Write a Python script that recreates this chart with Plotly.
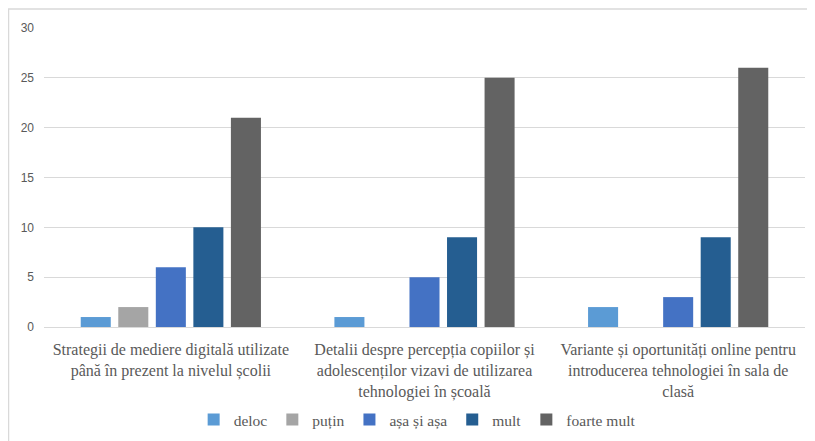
import plotly.graph_objects as go

categories = [
    "Strategii de mediere digitală utilizate<br>până în prezent la nivelul școlii",
    "Detalii despre percepția copiilor și<br>adolescenților vizavi de utilizarea<br>tehnologiei în școală",
    "Variante și oportunități online pentru<br>introducerea tehnologiei în sala de<br>clasă",
]
series_names = ["deloc", "puțin", "așa și așa", "mult", "foarte mult"]
deloc = [1, 1, 2]
putin = [2, 0, 0]
asa = [6, 5, 3]
mult = [10, 9, 9]
foarte_mult = [21, 25, 26]
colors = ["#5B9BD5", "#A5A5A5", "#4472C4", "#255E91", "#636363"]

values = [deloc, putin, asa, mult, foarte_mult]

fig = go.Figure()
for name, vals, col in zip(series_names, values, colors):
    fig.add_trace(go.Bar(x=categories, y=vals, name=name, marker=dict(color=col, line=dict(width=0))))

# page has an 8px body margin, so the figure is sized to fit the window
W, H = 807, 433
ml, mr, mt, mb = 36, 10, 20, 114
pw, ph = W - ml - mr, H - mt - mb

fig.update_layout(
    width=W, height=H,
    margin=dict(l=ml, r=mr, t=mt, b=mb, pad=0, autoexpand=False),
    paper_bgcolor="white", plot_bgcolor="white",
    barmode="group", bargap=0.26, bargroupgap=0.2,
    showlegend=True,
    legend=dict(orientation="h", xref="container", yref="container",
                x=0.507, xanchor="center", y=1 - 412 / H, yanchor="middle",
                font=dict(family="Liberation Serif", size=15.5, color="#595959"),
                itemwidth=30, tracegroupgap=0, traceorder="normal"),
    font=dict(family="Liberation Serif", color="#595959"),
)
fig.update_yaxes(range=[0, 30], dtick=5, showgrid=True, gridcolor="#D9D9D9", gridwidth=1,
                 zeroline=False, showline=False, automargin=False,
                 tickfont=dict(family="Liberation Sans", size=12, color="#595959"),
                 ticklabelstandoff=9)
fig.update_xaxes(showline=True, linecolor="#D9D9D9", linewidth=1, automargin=False,
                 tickfont=dict(family="Liberation Serif", size=16, color="#595959"),
                 ticks="", ticklabelstandoff=8)

# chart border
fig.add_shape(type="rect", xref="paper", yref="paper",
              x0=(0.5 - ml) / pw, x1=(W + 20 - ml) / pw,
              y0=(ph + mt - (H + 20)) / ph, y1=(ph + mt - 1) / ph,
              line=dict(color="#D9D9D9", width=1.5), fillcolor="rgba(0,0,0,0)", layer="below")

fig.write_html("out.html")
